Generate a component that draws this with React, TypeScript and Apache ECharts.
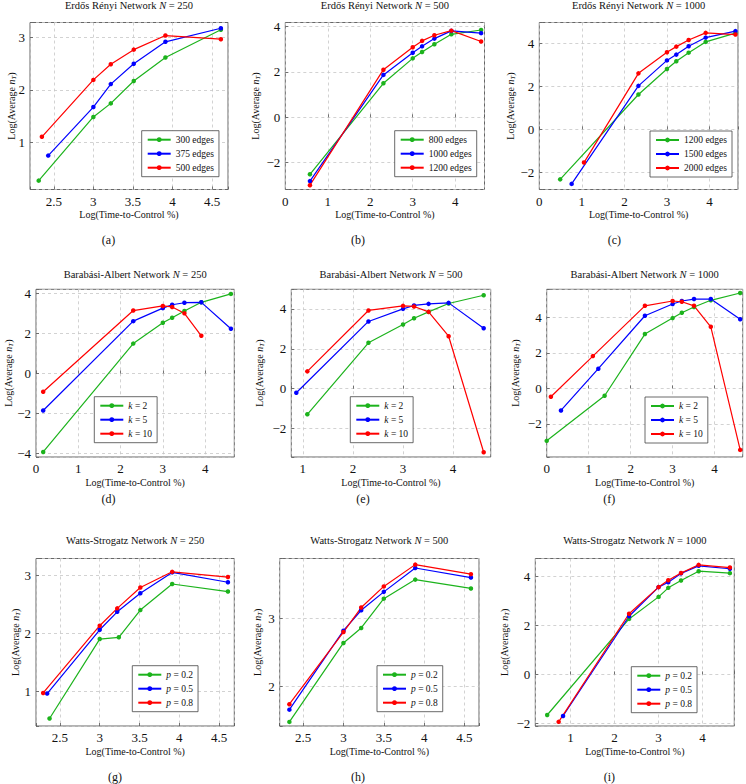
import React, { useEffect, useRef } from 'react';
import * as echarts from 'echarts';

const FONT = 'Liberation Serif, DejaVu Serif, serif';
const GREEN = '#1cb31c';
const BLUE = '#0000ff';
const RED = '#ff0000';
const INK = '#111111';

// (a) Erdős Rényi N = 250
const ER250_X_300 = [2.31, 3.0, 3.22, 3.51, 3.91, 4.61];
const ER250_Y_300 = [0.26, 1.48, 1.74, 2.17, 2.62, 3.15];
const ER250_X_375 = [2.43, 3.0, 3.22, 3.51, 3.91, 4.61];
const ER250_Y_375 = [0.74, 1.67, 2.11, 2.5, 2.92, 3.18];
const ER250_X_500 = [2.35, 3.0, 3.22, 3.51, 3.91, 4.61];
const ER250_Y_500 = [1.1, 2.19, 2.49, 2.77, 3.04, 2.97];

// (b) Erdős Rényi N = 500
const ER500_X = [0.58, 2.31, 3.0, 3.22, 3.51, 3.91, 4.61];
const ER500_Y_800 = [-2.51, 1.5, 2.6, 2.88, 3.22, 3.66, 3.85];
const ER500_Y_1000 = [-2.81, 1.87, 2.85, 3.13, 3.47, 3.81, 3.71];
const ER500_Y_1200 = [-2.99, 2.1, 3.09, 3.37, 3.62, 3.82, 3.34];

// (c) Erdős Rényi N = 1000
const ER1000_X_1200 = [0.49, 2.33, 3.0, 3.22, 3.51, 3.91, 4.61];
const ER1000_Y_1200 = [-2.32, 1.62, 2.8, 3.16, 3.56, 4.06, 4.47];
const ER1000_X_1500 = [0.76, 2.33, 3.0, 3.22, 3.51, 3.91, 4.61];
const ER1000_Y_1500 = [-2.53, 2.02, 3.2, 3.47, 3.86, 4.26, 4.56];
const ER1000_X_2000 = [1.05, 2.33, 3.0, 3.22, 3.51, 3.91, 4.61];
const ER1000_Y_2000 = [-1.54, 2.6, 3.58, 3.84, 4.15, 4.48, 4.4];

// (d) Barabási-Albert N = 250
const BA250_X = [0.17, 2.3, 3.0, 3.22, 3.51, 3.91, 4.61];
const BA250_Y_K2 = [-3.92, 1.49, 2.53, 2.78, 3.12, 3.55, 3.97];
const BA250_Y_K5 = [-1.85, 2.61, 3.26, 3.43, 3.53, 3.55, 2.23];
const BA250_X_K10 = [0.17, 2.3, 3.0, 3.22, 3.51, 3.91];
const BA250_Y_K10 = [-0.91, 3.14, 3.37, 3.32, 3.0, 1.88];

// (e) Barabási-Albert N = 500
const BA500_X_K2 = [1.09, 2.31, 3.0, 3.22, 3.51, 3.91, 4.61];
const BA500_Y_K2 = [-1.28, 2.3, 3.22, 3.53, 3.85, 4.27, 4.68];
const BA500_X_K5 = [0.87, 2.31, 3.0, 3.22, 3.51, 3.91, 4.61];
const BA500_Y_K5 = [-0.2, 3.37, 4.0, 4.17, 4.25, 4.3, 3.03];
const BA500_X_K10 = [1.09, 2.31, 3.0, 3.22, 3.51, 3.91, 4.61];
const BA500_Y_K10 = [0.87, 3.92, 4.15, 4.12, 3.85, 2.63, -3.18];

// (f) Barabási-Albert N = 1000
const BA1000_X_K2 = [0.0, 1.38, 2.34, 3.0, 3.22, 3.51, 3.91, 4.61];
const BA1000_Y_K2 = [-2.95, -0.41, 3.06, 3.96, 4.26, 4.58, 4.96, 5.37];
const BA1000_X_K5 = [0.34, 1.23, 2.34, 3.0, 3.22, 3.51, 3.91, 4.61];
const BA1000_Y_K5 = [-1.24, 1.11, 4.09, 4.75, 4.92, 5.03, 5.03, 3.89];
const BA1000_X_K10 = [0.1, 1.1, 2.34, 3.0, 3.22, 3.51, 3.91, 4.61];
const BA1000_Y_K10 = [-0.47, 1.82, 4.65, 4.92, 4.88, 4.65, 3.47, -3.46];

// (g) Watts-Strogatz N = 250
const WS250_X_02 = [2.37, 3.0, 3.24, 3.51, 3.91, 4.61];
const WS250_Y_02 = [0.53, 1.9, 1.93, 2.4, 2.85, 2.72];
const WS250_X_05 = [2.34, 3.0, 3.22, 3.51, 3.91, 4.61];
const WS250_Y_05 = [0.96, 2.06, 2.37, 2.69, 3.05, 2.88];
const WS250_X_08 = [2.29, 3.0, 3.22, 3.51, 3.91, 4.61];
const WS250_Y_08 = [0.97, 2.13, 2.43, 2.79, 3.06, 2.97];

// (h) Watts-Strogatz N = 500
const WS500_X = [2.33, 3.0, 3.22, 3.5, 3.89, 4.58];
const WS500_Y_02 = [1.48, 2.64, 2.86, 3.29, 3.57, 3.44];
const WS500_Y_05 = [1.66, 2.82, 3.12, 3.39, 3.74, 3.6];
const WS500_Y_08 = [1.74, 2.8, 3.16, 3.47, 3.79, 3.65];

// (i) Watts-Strogatz N = 1000
const WS1000_X_02 = [0.47, 2.33, 3.0, 3.22, 3.51, 3.91, 4.62];
const WS1000_Y_02 = [-1.66, 2.27, 3.17, 3.54, 3.84, 4.22, 4.14];
const WS1000_X_05 = [0.83, 2.33, 3.0, 3.22, 3.51, 3.91, 4.62];
const WS1000_Y_05 = [-1.7, 2.38, 3.57, 3.77, 4.13, 4.44, 4.32];
const WS1000_X_08 = [0.73, 2.33, 3.0, 3.22, 3.51, 3.91, 4.62];
const WS1000_Y_08 = [-1.94, 2.48, 3.57, 3.85, 4.15, 4.48, 4.37];

const X_NAME = 'Log(Time-to-Control %)';
const Y_NAME = 'Log(Average {i|n}{s|T})';

type S = { name: string; color: string; x: number[]; y: number[] };
type Panel = {
  title: string;
  caption: string;
  box: [number, number, number, number];
  xr: [number, number, number];
  yr: [number, number, number];
  yGap: number;
  legend: [number, number];
  cap: [number, number];
  titleY: number;
  series: S[];
};

const panels: Panel[] = [
  {
    title: 'Erdős Rényi Network {i|N} = 250', caption: '(a)',
    box: [30, 22.5, 228, 189.5], xr: [2.2, 4.7, 0.5], yr: [0.09, 3.29, 1], yGap: 13,
    legend: [141.7, 130.7], cap: [108.5, 240], titleY: 5,
    series: [
      { name: '300 edges', color: GREEN, x: ER250_X_300, y: ER250_Y_300 },
      { name: '375 edges', color: BLUE, x: ER250_X_375, y: ER250_Y_375 },
      { name: '500 edges', color: RED, x: ER250_X_500, y: ER250_Y_500 },
    ],
  },
  {
    title: 'Erdős Rényi Network {i|N} = 500', caption: '(b)',
    box: [285.3, 22.5, 484.5, 189.5], xr: [0, 4.69, 1], yr: [-3.18, 4.18, 2], yGap: 24,
    legend: [394.7, 130.7], cap: [358, 240], titleY: 5,
    series: [
      { name: '800 edges', color: GREEN, x: ER500_X, y: ER500_Y_800 },
      { name: '1000 edges', color: BLUE, x: ER500_X, y: ER500_Y_1000 },
      { name: '1200 edges', color: RED, x: ER500_X, y: ER500_Y_1200 },
    ],
  },
  {
    title: 'Erdős Rényi Network {i|N} = 1000', caption: '(c)',
    box: [539.3, 22.5, 738, 189.5], xr: [0, 4.67, 1], yr: [-2.79, 4.96, 2], yGap: 23,
    legend: [650, 131], cap: [614.3, 240], titleY: 5,
    series: [
      { name: '1200 edges', color: GREEN, x: ER1000_X_1200, y: ER1000_Y_1200 },
      { name: '1500 edges', color: BLUE, x: ER1000_X_1500, y: ER1000_Y_1500 },
      { name: '2000 edges', color: RED, x: ER1000_X_2000, y: ER1000_Y_2000 },
    ],
  },
  {
    title: 'Barabási-Albert Network {i|N} = 250', caption: '(d)',
    box: [36, 289.3, 234.3, 457], xr: [0, 4.69, 1], yr: [-4.17, 4.2, 2], yGap: 22,
    legend: [94.3, 396.7], cap: [108.5, 499], titleY: 274.3,
    series: [
      { name: 'k = 2', color: GREEN, x: BA250_X, y: BA250_Y_K2 },
      { name: 'k = 5', color: BLUE, x: BA250_X, y: BA250_Y_K5 },
      { name: 'k = 10', color: RED, x: BA250_X_K10, y: BA250_Y_K10 },
    ],
  },
  {
    title: 'Barabási-Albert Network {i|N} = 500', caption: '(e)',
    box: [291.3, 289.3, 490.7, 457], xr: [0.77, 4.75, 1], yr: [-3.42, 4.98, 2], yGap: 26,
    legend: [350.3, 396.7], cap: [363, 498.5], titleY: 274.3,
    series: [
      { name: 'k = 2', color: GREEN, x: BA500_X_K2, y: BA500_Y_K2 },
      { name: 'k = 5', color: BLUE, x: BA500_X_K5, y: BA500_Y_K5 },
      { name: 'k = 10', color: RED, x: BA500_X_K10, y: BA500_Y_K10 },
    ],
  },
  {
    title: 'Barabási-Albert Network {i|N} = 1000', caption: '(f)',
    box: [546.7, 289.3, 742.7, 457], xr: [0, 4.67, 1], yr: [-3.86, 5.58, 2], yGap: 25,
    legend: [645, 397], cap: [609.3, 498.5], titleY: 274.3,
    series: [
      { name: 'k = 2', color: GREEN, x: BA1000_X_K2, y: BA1000_Y_K2 },
      { name: 'k = 5', color: BLUE, x: BA1000_X_K5, y: BA1000_Y_K5 },
      { name: 'k = 10', color: RED, x: BA1000_X_K10, y: BA1000_Y_K10 },
    ],
  },
  {
    title: 'Watts-Strogatz Network {i|N} = 250', caption: '(g)',
    box: [36, 558.5, 234.3, 726], xr: [2.2, 4.69, 0.5], yr: [0.4, 3.29, 1], yGap: 15,
    legend: [132.3, 665.7], cap: [115, 777], titleY: 540.7,
    series: [
      { name: 'p = 0.2', color: GREEN, x: WS250_X_02, y: WS250_Y_02 },
      { name: 'p = 0.5', color: BLUE, x: WS250_X_05, y: WS250_Y_05 },
      { name: 'p = 0.8', color: RED, x: WS250_X_08, y: WS250_Y_08 },
    ],
  },
  {
    title: 'Watts-Strogatz Network {i|N} = 500', caption: '(h)',
    box: [279.7, 558.5, 479, 726], xr: [2.21, 4.68, 0.5], yr: [1.42, 3.88, 1], yGap: 16,
    legend: [377, 665.7], cap: [358, 777], titleY: 540.7,
    series: [
      { name: 'p = 0.2', color: GREEN, x: WS500_X, y: WS500_Y_02 },
      { name: 'p = 0.5', color: BLUE, x: WS500_X, y: WS500_Y_05 },
      { name: 'p = 0.8', color: RED, x: WS500_X, y: WS500_Y_08 },
    ],
  },
  {
    title: 'Watts-Strogatz Network {i|N} = 1000', caption: '(i)',
    box: [535.3, 558.5, 734.3, 726], xr: [0.2, 4.72, 1], yr: [-2.11, 4.74, 2], yGap: 25,
    legend: [631.3, 666.7], cap: [609.3, 777.3], titleY: 540.7,
    series: [
      { name: 'p = 0.2', color: GREEN, x: WS1000_X_02, y: WS1000_Y_02 },
      { name: 'p = 0.5', color: BLUE, x: WS1000_X_05, y: WS1000_Y_05 },
      { name: 'p = 0.8', color: RED, x: WS1000_X_08, y: WS1000_Y_08 },
    ],
  },
];

const fmtTick = (step: number) => (v: number) => {
  const k = v / step;
  if (Math.abs(k - Math.round(k)) > 1e-6) return '';
  const r = Math.round(v * 1000) / 1000;
  return r < 0 ? '\u2212' + String(Math.abs(r)) : String(r);
};

const richItalic = (size: number) => ({ fontStyle: 'italic', fontSize: size, fontFamily: FONT, color: INK });

function buildOption() {
  const grid: any[] = [];
  const xAxis: any[] = [];
  const yAxis: any[] = [];
  const series: any[] = [];
  const legend: any[] = [];
  const graphic: any[] = [];

  const splitLine = { show: true, lineStyle: { type: [3, 3], color: '#c6c6c6', width: 0.8 } };
  const axisTick = { show: true, inside: true, length: 3, lineStyle: { color: '#555', width: 0.8 } };

  panels.forEach((p, i) => {
    const [l, t, r, b] = p.box;
    grid.push({
      left: l, top: t, width: r - l, height: b - t,
      show: true, borderColor: '#555', borderWidth: 0.9, backgroundColor: 'transparent',
      containLabel: false, outerBoundsMode: 'none',
    });
    xAxis.push({
      type: 'value', gridIndex: i, min: p.xr[0], max: p.xr[1],
      minInterval: p.xr[2], maxInterval: p.xr[2],
      name: X_NAME, nameLocation: 'middle', nameGap: 20, nameMoveOverlap: false,
      nameTextStyle: { fontFamily: FONT, fontSize: 10, color: INK },
      axisLine: { show: false }, axisTick, splitLine,
      axisLabel: { fontFamily: FONT, fontSize: 13, color: INK, margin: 5, formatter: fmtTick(p.xr[2]) },
    });
    yAxis.push({
      type: 'value', gridIndex: i, min: p.yr[0], max: p.yr[1],
      minInterval: p.yr[2], maxInterval: p.yr[2],
      name: Y_NAME, nameLocation: 'middle', nameRotate: 90, nameGap: p.yGap, nameMoveOverlap: false,
      nameTextStyle: {
        fontFamily: FONT, fontSize: 10, color: INK,
        rich: {
          i: richItalic(10),
          s: { fontStyle: 'italic', fontSize: 7, fontFamily: FONT, color: INK, padding: [5, 0, 0, 0] },
        },
      },
      axisLine: { show: false }, axisTick, splitLine,
      axisLabel: { fontFamily: FONT, fontSize: 13, color: INK, margin: 5, formatter: fmtTick(p.yr[2]) },
    });
    const names: string[] = [];
    p.series.forEach((s) => {
      const nm = s.name + '#' + i;
      names.push(nm);
      series.push({
        type: 'line', name: nm, xAxisIndex: i, yAxisIndex: i,
        data: s.x.map((x, j) => [x, s.y[j]]),
        symbol: 'circle', symbolSize: 4.5, showSymbol: true, clip: false,
        itemStyle: { color: s.color },
        lineStyle: { color: s.color, width: 1.2 },
        emphasis: { disabled: true },
      });
    });
    legend.push({
      show: true, orient: 'vertical', left: p.legend[0], top: p.legend[1], data: names,
      backgroundColor: '#ffffff', borderColor: '#444', borderWidth: 0.8, borderRadius: 0,
      padding: [3, 5, 3, 5], itemWidth: 23, itemHeight: 6, itemGap: 2, selectedMode: false,
      textStyle: {
        fontFamily: FONT, fontSize: 9.5, color: INK, lineHeight: 12,
        rich: { i: { ...richItalic(9.5), lineHeight: 12 } },
      },
      formatter: (name: string) => {
        const base = name.split('#')[0];
        return base.replace(/^([kp]) /, '{i|$1} ');
      },
    });
    graphic.push({
      type: 'text', x: (l + r) / 2, y: p.titleY,
      style: {
        text: p.title, fontFamily: FONT, fontSize: 10.5, fill: INK,
        align: 'center', verticalAlign: 'middle',
        rich: { i: richItalic(10.5) },
      },
    });
    graphic.push({
      type: 'text', x: p.cap[0], y: p.cap[1],
      style: { text: p.caption, fontFamily: FONT, fontSize: 12, fill: INK, align: 'center', verticalAlign: 'middle' },
    });
  });

  return {
    animation: false,
    backgroundColor: '#ffffff',
    grid, xAxis, yAxis, series, legend, graphic,
  };
}

export default function App() {
  const ref = useRef<HTMLDivElement>(null);
  useEffect(() => {
    document.body.style.margin = '0';
    if (!ref.current) return;
    const chart = echarts.init(ref.current, undefined, { renderer: 'svg' });
    chart.setOption(buildOption() as any);
    return () => chart.dispose();
  }, []);
  return <div ref={ref} style={{ width: 746, height: 784 }} />;
}
